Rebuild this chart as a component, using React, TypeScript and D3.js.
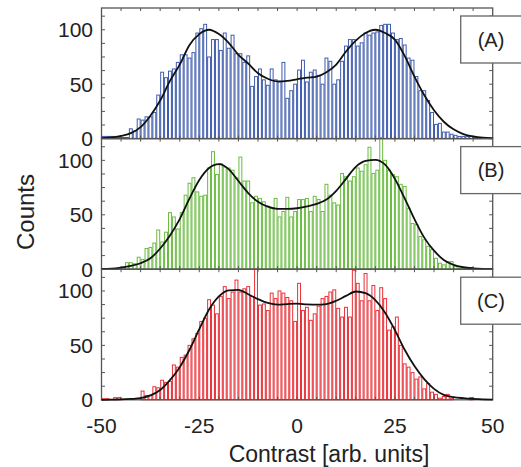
import React from "react";
import * as d3 from "d3";

// ---- data ----
const binStart = -50; // first bin left edge, 1 unit bins
const countsA = [
  2, 2, 2, 2, 1, 1, 1, 9, 7, 18,
  17, 20, 20, 24, 40, 61, 56, 62, 64, 70,
  77, 77, 74, 79, 97, 101, 105, 75, 91, 91,
  81, 97, 83, 95, 78, 78, 70, 76, 48, 57,
  64, 54, 49, 64, 54, 52, 70, 37, 44, 50,
  63, 72, 52, 61, 63, 58, 50, 74, 71, 50,
  54, 71, 85, 91, 91, 85, 88, 97, 95, 97,
  98, 104, 105, 105, 97, 91, 92, 86, 74, 72,
  57, 44, 44, 35, 24, 13, 14, 6, 6, 4,
  3, 2, 2, 2, 2, 1, 1, 0, 0, 0,
];
const countsB = [
  0, 0, 0, 0, 0, 2, 6, 6, 5, 11,
  9, 19, 20, 24, 36, 25, 34, 52, 48, 37,
  52, 68, 79, 84, 71, 67, 68, 93, 108, 87,
  97, 94, 93, 91, 84, 103, 81, 81, 61, 67,
  65, 62, 58, 56, 65, 48, 53, 66, 48, 53,
  64, 64, 65, 53, 67, 64, 53, 78, 68, 61,
  59, 88, 85, 81, 85, 93, 90, 96, 112, 88,
  91, 121, 100, 91, 87, 85, 78, 76, 56, 42,
  41, 30, 27, 21, 18, 10, 5.5, 4, 7, 7,
  2.5, 1, 1, 1, 1.5, 0, 0, 0, 0, 0,
];
const countsC = [
  1, 1, 0, 2, 2, 0, 0, 0, 0, 0,
  8, 4, 4, 12, 11, 18, 16, 17, 32, 30,
  39, 41, 50, 56, 61, 72, 75, 92, 87, 79,
  95, 104, 93, 99, 110, 99, 102, 104, 95, 120,
  87, 88, 82, 98, 93, 100, 98, 94, 91, 72,
  107, 82, 85, 73, 79, 86, 93, 95, 99, 101,
  84, 76, 85, 76, 119, 107, 91, 116, 91, 105,
  82, 103, 93, 64, 67, 76, 50, 33, 30, 25,
  19, 21, 10, 15, 7, 5, 1.5, 3, 5, 1,
  0, 0, 0, 0, 2, 0, 0, 0, 0, 0,
];

// fitted curves, read every 2.5 units from -50 to 50
const fitX = [
  -50, -47.5, -45, -42.5, -40, -37.5, -35, -32.5, -30, -27.5, -25, -22.5, -20, -17.5, -15, -12.5, -10, -7.5, -5, -2.5,
  0, 2.5, 5, 7.5, 10, 12.5, 15, 17.5, 20, 22.5, 25, 27.5, 30, 32.5, 35, 37.5, 40, 42.5, 45, 47.5, 50,
];
const fitA = [
  0.5, 1, 2.5, 5, 10.5, 21, 35, 53, 68, 86, 96, 100, 96, 88, 77, 69, 60, 55, 52.5, 53,
  54.5, 56, 57, 61, 68, 80, 90, 97, 100, 97, 91, 76, 57, 40, 26, 15.5, 8.5, 4.2, 2, 0.8, 0.3,
];
const fitB = [
  0.2, 0.5, 1.5, 3, 5.5, 10, 19, 31, 46, 65, 82, 93, 96.6, 92, 81, 70, 62, 57.5, 55.5, 55.5,
  56, 57.7, 60, 64, 72, 83, 94, 99.5, 100.5, 96, 83, 65, 46, 29, 17, 8.5, 4, 1.8, 0.8, 0.3, 0.1,
];
const fitC = [
  0, 0.1, 0.3, 0.8, 1.5, 4, 9, 18, 30, 46, 65, 83, 95, 100.5, 101, 97, 92.5, 89, 87.5, 88,
  88.3, 87.7, 87.4, 88, 91, 95.5, 99.5, 98, 91.5, 80, 64, 46, 31, 19, 10, 4.5, 2.5, 1.5, 0.8, 0.3, 0.1,
];

const panelLabels = ["(A)", "(B)", "(C)"];
const barColors = ["#3553aa", "#62b838", "#e8252c"];
const xTickLabels = [-50, -25, 0, 25, 50];
const yTickLabels = [0, 50, 100];

const panels = [
  { counts: countsA, fit: fitA },
  { counts: countsB, fit: fitB },
  { counts: countsC, fit: fitC },
];

const W = 521;
const H = 467;
const FONT = "'Liberation Sans', Arial, Helvetica, sans-serif";

export default function App() {
  const x = d3.scaleLinear().domain([-50, 50]).range([101.5, 492.7]);
  const top0 = 8;
  const ph = 130.6;
  const frameColor = "#555";
  const textColor = "#222";

  const xMinor = d3.range(-45, 50, 5);
  const yMinor = d3.range(12.5, 120, 12.5);

  return (
    <svg
      width={W}
      height={H}
      style={{ position: "absolute", left: 0, top: 0, background: "#fff" }}
      fontFamily={FONT}
    >
      {panels.map((p, k) => {
        const top = top0 + k * ph;
        const y = d3.scaleLinear().domain([0, 120]).range([top + ph, top]);
        const line = d3
          .line<number>()
          .x((_, i) => x(fitX[i]))
          .y((d) => y(d))
          .curve(d3.curveMonotoneX);
        return (
          <g key={k}>
            {p.counts.map((v, i) => {
              if (v <= 0) return null;
              const x0 = x(binStart + i);
              const w = x(binStart + i + 1) - x0;
              return (
                <rect
                  key={i}
                  x={x0 + 0.5}
                  y={y(v)}
                  width={w - 1}
                  height={y(0) - y(v)}
                  fill="none"
                  stroke={barColors[k]}
                  strokeWidth={1}
                  opacity={0.95}
                />
              );
            })}
            <rect
              x={x(-50)}
              y={top}
              width={x(50) - x(-50)}
              height={ph}
              fill="none"
              stroke={frameColor}
              strokeWidth={1.3}
            />
            {xMinor.map((t) => (
              <g key={"xt" + t}>
                <line x1={x(t)} x2={x(t)} y1={top + ph} y2={top + ph - 3} stroke={frameColor} strokeWidth={1} />
                <line x1={x(t)} x2={x(t)} y1={top} y2={top + 3} stroke={frameColor} strokeWidth={1} />
              </g>
            ))}
            {yMinor.map((t) => (
              <g key={"yt" + t}>
                <line x1={x(-50)} x2={x(-50) + 3.5} y1={y(t)} y2={y(t)} stroke={frameColor} strokeWidth={1} />
                <line x1={x(50)} x2={x(50) - 3.5} y1={y(t)} y2={y(t)} stroke={frameColor} strokeWidth={1} />
              </g>
            ))}
            <path d={line(p.fit) || ""} fill="none" stroke="#111" strokeWidth={1.8} />
            {yTickLabels.map((t) => (
              <text
                key={"yl" + t}
                x={93}
                y={y(t)}
                textAnchor="end"
                dominantBaseline="central"
                fontSize={21}
                fill={textColor}
              >
                {t}
              </text>
            ))}
            <rect
              x={460.7}
              y={top + 8}
              width={80}
              height={47}
              fill="#fff"
              stroke="#666"
              strokeWidth={1.3}
            />
            <text
              x={491}
              y={top + 8 + 23.5}
              textAnchor="middle"
              dominantBaseline="central"
              fontSize={20}
              fill={textColor}
            >
              {panelLabels[k]}
            </text>
          </g>
        );
      })}
      {xTickLabels.map((t) => (
        <text key={"xl" + t} x={x(t)} y={433} textAnchor="middle" fontSize={21} fill={textColor}>
          {t}
        </text>
      ))}
      <text x={329} y={462} textAnchor="middle" fontSize={23} fill={textColor}>
        Contrast [arb. units]
      </text>
      <text
        transform="translate(34,212) rotate(-90)"
        textAnchor="middle"
        fontSize={24}
        fill={textColor}
      >
        Counts
      </text>
    </svg>
  );
}
